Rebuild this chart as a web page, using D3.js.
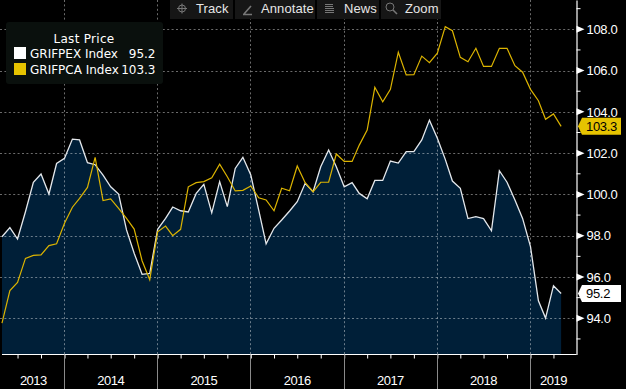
<!DOCTYPE html>
<html>
<head>
<meta charset="utf-8">
<script src="https://cdn.jsdelivr.net/npm/d3@7"></script>
<style>
  html, body { margin: 0; padding: 0; background: #000; overflow: hidden; }
  text { font-family: "DejaVu Sans", sans-serif; font-size: 12px; fill: #fff; }
  .num { font-family: "Liberation Sans", sans-serif; font-size: 13px; letter-spacing: -0.3px; }
</style>
</head>
<body>
<div id="chart"></div>
<script>
// monthly values, May 2013 to May 2019
const griPex = [97.95, 98.39, 97.84, 99.16, 100.59, 100.99, 100.02, 101.5, 101.75, 102.68, 102.64, 101.54, 101.44,
    100.94, 100.37, 100.02, 98.28, 97.15, 96.13, 96.18, 98.31, 98.84, 99.39, 99.21, 99.15, 100.05, 100.49, 99.11,
    100.62, 99.41, 101.26, 101.8, 100.94, 99.24, 97.61, 98.36, 98.76, 99.2, 99.65, 100.54, 100.13, 101.34, 102.15,
    101.34, 100.37, 100.57, 100.05, 99.79, 100.68, 100.68, 101.62, 101.52, 102.07, 102.07, 102.64, 103.6, 102.72,
    101.7, 100.65, 100.3, 98.83, 98.92, 98.83, 98.24, 101.15, 100.59, 99.73, 98.84, 97.47, 94.85, 94.01, 95.58, 95.2];
const griPca = [93.77, 95.34, 95.74, 96.9, 97.05, 97.07, 97.52, 97.61, 98.6, 99.38, 99.81, 100.34, 101.8,
    99.7, 99.78, 99.33, 98.84, 98.32, 96.79, 95.87, 98.19, 98.47, 98, 98.31, 100.37, 100.57, 100.62, 100.81,
    101.47, 100.86, 100.17, 100.2, 100.41, 99.84, 99.73, 99.21, 100.3, 100.18, 101.38, 100.57, 100.13, 100.59, 100.59,
    101.96, 101.6, 101.6, 102.39, 103.12, 105.19, 104.49, 105.09, 106.89, 105.79, 105.8, 106.7, 106.38, 106.84,
    108.13, 107.93, 106.64, 106.43, 107.08, 106.2, 106.2, 107.08, 107.08, 106.24, 105.92, 105.09, 104.54, 103.64, 103.9, 103.3];
const majorTicks = [94, 96, 98, 100, 102, 104, 106, 108];
const minorTicks = [93, 95, 97, 99, 101, 103, 105, 107, 109];
const years = [2014, 2015, 2016, 2017, 2018, 2019];
const yearLabels = [["2013", 2013, 8], ["2014", 2014, 6], ["2015", 2015, 6], ["2016", 2016, 6], ["2017", 2017, 6], ["2018", 2018, 6], ["2019", 2019, 3]];
const legendRows = [["GRIFPEX Index", "95.2", "#ffffff"], ["GRIFPCA Index", "103.3", "#e6c300"]];
const toolbar = [["Track", 170, 63, 196], ["Annotate", 235, 80, 261], ["News", 317, 62, 344], ["Zoom", 381, 60, 405]];

const width = 626, height = 389;
const axisX = 576.5, axisY = 354.5;

const svg = d3.select("#chart").append("svg")
    .attr("width", width)
    .attr("height", height)
    .style("display", "block");

svg.append("rect").attr("width", width).attr("height", height).attr("fill", "#000");

const months = griPex.map((d, i) => new Date(2013, 4 + i, 1));

const x = d3.scaleTime()
    .domain([new Date(2014, 0, 1), new Date(2019, 0, 1)])
    .range([64.5, 530.5]);

const y = d3.scaleLinear()
    .domain([94, 108])
    .range([318.3, 29.3]);

const area = d3.area()
    .x((d, i) => x(months[i]))
    .y0(axisY)
    .y1(d => y(d));

const line = d3.line()
    .x((d, i) => x(months[i]))
    .y(d => y(d));

// filled white series
svg.append("path").datum(griPex).attr("d", area).attr("fill", "#001f38");

// grid sits on top of the fill
const grid = svg.append("g").attr("stroke", "#fff").attr("stroke-opacity", 0.42).attr("stroke-dasharray", "2,2.4");
grid.selectAll(".h").data(majorTicks).join("line")
    .attr("x1", 0).attr("x2", axisX)
    .attr("y1", d => Math.round(y(d)) + 0.5).attr("y2", d => Math.round(y(d)) + 0.5);
grid.selectAll(".v").data(years).join("line")
    .attr("x1", d => Math.floor(x(new Date(d, 0, 1))) + 0.5)
    .attr("x2", d => Math.floor(x(new Date(d, 0, 1))) + 0.5)
    .attr("y1", 0).attr("y2", axisY);

svg.append("path").datum(griPex).attr("d", line)
    .attr("fill", "none").attr("stroke", "#e4e8ec").attr("stroke-width", 1.3);
svg.append("path").datum(griPca).attr("d", line)
    .attr("fill", "none").attr("stroke", "#dcb400").attr("stroke-width", 1.2);

// right axis
const yAxis = d3.axisRight(y.copy().domain([y.invert(0), y.invert(axisY)]).range([0, axisY]))
    .tickValues(majorTicks)
    .tickSize(0)
    .tickPadding(10)
    .tickFormat(d3.format(".1f"));
const yg = svg.append("g").attr("transform", `translate(${axisX},0)`).call(yAxis);
yg.select(".domain").attr("stroke", "#fff").attr("stroke-width", 1.2);
yg.selectAll("text").attr("class", "num").attr("font-family", null).attr("fill", "#fff");
yg.attr("font-family", null).attr("font-size", null);

svg.append("g").selectAll("path").data(majorTicks).join("path")
    .attr("d", d => `M${axisX},${y(d) - 3.5}L${axisX + 8},${y(d)}L${axisX},${y(d) + 3.5}Z`)
    .attr("fill", "#fff");
svg.append("g").selectAll("line").data(minorTicks).join("line")
    .attr("x1", axisX).attr("x2", axisX + 4)
    .attr("y1", d => y(d)).attr("y2", d => y(d))
    .attr("stroke", "#fff");

// bottom axis, quarterly ticks
const quarters = d3.timeMonth.every(3).range(new Date(2013, 6, 1), new Date(2019, 6, 1));
const xAxis = d3.axisBottom(x)
    .tickValues(quarters)
    .tickSize(4)
    .tickFormat("");
const xg = svg.append("g").attr("transform", `translate(0,${axisY})`).call(xAxis);
xg.select(".domain").remove();
xg.selectAll("line").attr("stroke", "#fff");
svg.append("line").attr("x1", 2).attr("x2", axisX).attr("y1", axisY).attr("y2", axisY)
    .attr("stroke", "#fff").attr("stroke-width", 1.2);

svg.append("g").selectAll("line").data(years).join("line")
    .attr("x1", d => Math.floor(x(new Date(d, 0, 1))) + 0.5)
    .attr("x2", d => Math.floor(x(new Date(d, 0, 1))) + 0.5)
    .attr("y1", axisY).attr("y2", height)
    .attr("stroke", "#8a8a8a");

// year labels sit mid way through the visible part of each year
svg.append("g").selectAll("text").data(yearLabels).join("text")
    .attr("class", "num")
    .attr("x", d => x(new Date(d[1], d[2], 1)))
    .attr("y", 385)
    .attr("text-anchor", "middle")
    .style("letter-spacing", "-0.5px")
    .text(d => d[0]);

// last value tags
function tag(v, fill, label) {
    const cy = y(v);
    svg.append("path")
        .attr("d", `M578,${cy}L582,${cy - 8.5}H621V${cy + 8.5}H582Z`)
        .attr("fill", fill);
    svg.append("text")
        .attr("class", "num")
        .attr("x", 586).attr("y", cy + 4.5)
        .style("fill", "#000")
        .text(label);
}
tag(griPca[griPca.length - 1], "#e6c300", "103.3");
tag(griPex[griPex.length - 1], "#ffffff", "95.2");

// legend
const legend = svg.append("g");
legend.append("rect").attr("x", 6).attr("y", 22).attr("width", 157).attr("height", 62).attr("rx", 3)
    .attr("fill", "#0a100d");
legend.append("text").attr("x", 84).attr("y", 43).attr("text-anchor", "middle").style("letter-spacing", "0.3px").text("Last Price");
const rows = legend.selectAll(".row").data(legendRows).join("g")
    .attr("transform", (d, i) => `translate(0,${i * 16})`);
rows.append("rect").attr("x", 14).attr("y", 47).attr("width", 12).attr("height", 12).attr("fill", d => d[2]);
rows.append("text").attr("x", 30).attr("y", 58).text(d => d[0]);
rows.append("text").attr("x", 155.5).attr("y", 58).attr("text-anchor", "end").text(d => d[1]);

// toolbar
const bar = svg.append("g").selectAll("g").data(toolbar).join("g");
bar.append("rect").attr("x", d => d[1]).attr("y", 0).attr("width", d => d[2]).attr("height", 19).attr("fill", "#161616");
bar.append("text").attr("class", "num").attr("x", d => d[3]).attr("y", 13).style("fill", "#e6e6e6").style("letter-spacing", "0.1px").text(d => d[0]);

const icons = svg.append("g").attr("fill", "none").attr("stroke", "#777");
icons.append("circle").attr("cx", 182).attr("cy", 8.5).attr("r", 3.5);
icons.append("path").attr("d", "M177,8.5H187M182,3.5V13.5");
icons.append("path").attr("d", "M244,14L251,6M243,14.5H252").attr("stroke-width", 1.6);
icons.append("path").attr("d", "M325,4.5H333M325,6.5H333M325,8.5H334M325,10.5H334M325,12.5H334");
icons.append("circle").attr("cx", 390).attr("cy", 7).attr("r", 4);
icons.append("path").attr("d", "M393,10L397,14").attr("stroke-width", 1.6);
</script>
</body>
</html>
